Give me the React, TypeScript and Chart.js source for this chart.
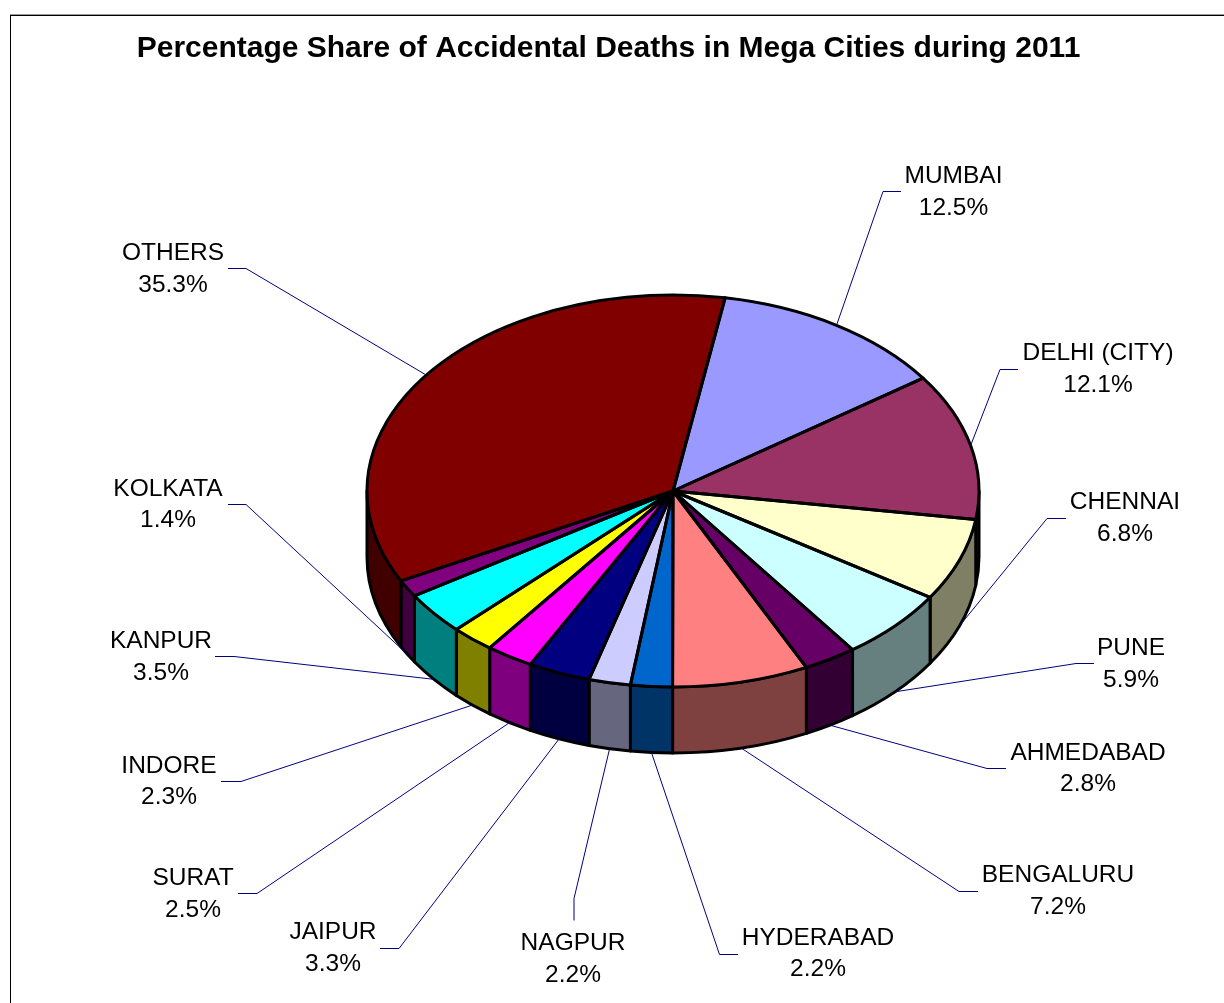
import React, { useEffect, useRef } from "react";
import { Chart, registerables } from "chart.js";

Chart.register(...registerables);

const titleText = "Percentage Share of Accidental Deaths in Mega Cities during 2011";
const cities = ["MUMBAI", "DELHI (CITY)", "CHENNAI", "PUNE", "AHMEDABAD", "BENGALURU", "HYDERABAD", "NAGPUR", "JAIPUR", "SURAT", "INDORE", "KANPUR", "KOLKATA", "OTHERS"];
const shares = [12.5, 12.1, 6.8, 5.9, 2.8, 7.2, 2.2, 2.2, 3.3, 2.5, 2.3, 3.5, 1.4, 35.3];
const sliceColors = ["#9999FF", "#993366", "#FFFFCC", "#CCFFFF", "#660066", "#FF8080", "#0066CC", "#CCCCFF", "#000080", "#FF00FF", "#FFFF00", "#00FFFF", "#800080", "#800000"];

// Label layout: text centre x, first-line centre y, and the elbow points of each leader line.
const labelCenterX = [953.5, 1098, 1125, 1131, 1088, 1058, 818, 573, 333, 193, 169, 161, 168, 173];
const labelLineY = [176.5, 353.5, 502.5, 648.5, 753, 875.5, 938, 943.5, 932.5, 878.5, 766, 641.5, 489, 253.5];
const leaderStart = [[901, 191], [1018, 369], [1066, 518], [1094, 663], [1006, 768], [978, 891], [738, 954], [574, 920], [380, 948], [238, 893], [221, 781], [215, 656], [228, 504], [228, 268]];
const leaderElbow = [[883, 191], [1000, 369], [1047, 518], [1076, 663], [987, 768], [959, 891], [719.5, 954], [574, 898], [399, 948], [257, 893], [241, 781], [234, 656], [246, 504], [246, 268]];

const PIE = { cx: 673, cy: 491, radius: 306, tilt: 196 / 306, depth: 66 };
const LABEL_FONT = '24.5px "Liberation Sans", Arial, sans-serif';
const LINE_GAP = 31.5;

function halve(hex: string): string {
  const n = parseInt(hex.slice(1), 16);
  const r = (n >> 16) & 255, g = (n >> 8) & 255, b = n & 255;
  return `rgb(${r >> 1},${g >> 1},${b >> 1})`;
}

function arcProps(chart: any) {
  return chart.getDatasetMeta(0).data.map((el: any) => el.getProps(["x", "y", "startAngle", "endAngle", "outerRadius"], true));
}

const pie3d = {
  id: "pie3d",
  beforeDatasetsDraw(chart: any) {
    const ctx = chart.ctx;
    const arcs = arcProps(chart);
    const { cx, cy, radius, tilt, depth } = PIE;
    const ry = radius * tilt;
    ctx.save();
    ctx.lineWidth = 3;
    ctx.strokeStyle = "#000";
    ctx.lineJoin = "round";
    arcs.forEach((a: any, i: number) => {
      for (const [lo, hi] of [[0, Math.PI], [2 * Math.PI, 3 * Math.PI]]) {
        const s = Math.max(a.startAngle, lo), e = Math.min(a.endAngle, hi);
        if (e <= s) continue;
        ctx.beginPath();
        ctx.ellipse(cx, cy, radius, ry, 0, s, e);
        ctx.ellipse(cx, cy + depth, radius, ry, 0, e, s, true);
        ctx.closePath();
        ctx.fillStyle = halve(sliceColors[i]);
        ctx.fill();
        ctx.stroke();
      }
    });
    ctx.restore();
    const first = arcs[0];
    ctx.save();
    ctx.translate(cx, cy);
    ctx.scale(1, tilt);
    ctx.translate(-first.x, -first.y);
  },
  afterDatasetsDraw(chart: any) {
    const ctx = chart.ctx;
    ctx.restore();
    const arcs = arcProps(chart);
    const { cx, cy, radius, tilt, depth } = PIE;
    const ry = radius * tilt;
    ctx.save();
    ctx.lineWidth = 3;
    ctx.strokeStyle = "#000";
    ctx.lineJoin = "round";
    arcs.forEach((a: any) => {
      ctx.beginPath();
      ctx.moveTo(cx, cy);
      ctx.ellipse(cx, cy, radius, ry, 0, a.startAngle, a.endAngle);
      ctx.closePath();
      ctx.stroke();
    });
    ctx.restore();

    ctx.save();
    ctx.strokeStyle = "#000080";
    ctx.lineWidth = 1;
    ctx.font = LABEL_FONT;
    ctx.textAlign = "center";
    ctx.textBaseline = "middle";
    arcs.forEach((a: any, i: number) => {
      const mid = (a.startAngle + a.endAngle) / 2;
      const ax = cx + radius * Math.cos(mid);
      const ay = cy + ry * Math.sin(mid) + (Math.sin(mid) > 0 ? depth : 0);
      ctx.beginPath();
      ctx.moveTo(leaderStart[i][0], leaderStart[i][1] + 0.5);
      ctx.lineTo(leaderElbow[i][0], leaderElbow[i][1] + 0.5);
      ctx.lineTo(ax, ay);
      ctx.stroke();
      ctx.fillStyle = "#000";
      ctx.fillText(cities[i], labelCenterX[i], labelLineY[i]);
      ctx.fillText(`${shares[i].toFixed(1)}%`, labelCenterX[i], labelLineY[i] + LINE_GAP);
    });
    ctx.restore();
  },
};

export default function App() {
  const ref = useRef<HTMLCanvasElement | null>(null);
  useEffect(() => {
    document.body.style.margin = "0";
    document.body.style.background = "#fff";
    const chart = new Chart(ref.current as HTMLCanvasElement, {
      type: "pie",
      data: {
        labels: cities,
        datasets: [{ data: shares, backgroundColor: sliceColors, borderWidth: 0 }],
      },
      options: {
        responsive: false,
        animation: false,
        rotation: 9.8,
        radius: PIE.radius,
        events: [],
        plugins: {
          legend: { display: false },
          tooltip: { enabled: false },
          title: {
            display: true,
            text: titleText,
            color: "#000",
            font: { family: '"Liberation Sans", Arial, sans-serif', size: 30, weight: "bold", lineHeight: 1.2 },
            padding: { top: 30.5, bottom: 0 },
          },
        },
      },
      plugins: [pie3d],
    } as any);
    return () => chart.destroy();
  }, []);
  return (
    <div style={{ position: "relative", width: 1224, height: 1003, overflow: "hidden" }}>
      <div style={{ position: "absolute", left: 10, top: 15, right: 0, bottom: 0, borderLeft: "1px solid #000", borderTop: "1px solid #000", boxShadow: "0 -1px 0 #999" }} />
      <canvas ref={ref} width={1217} height={1003} style={{ position: "absolute", left: 0, top: 0 }} />
    </div>
  );
}
